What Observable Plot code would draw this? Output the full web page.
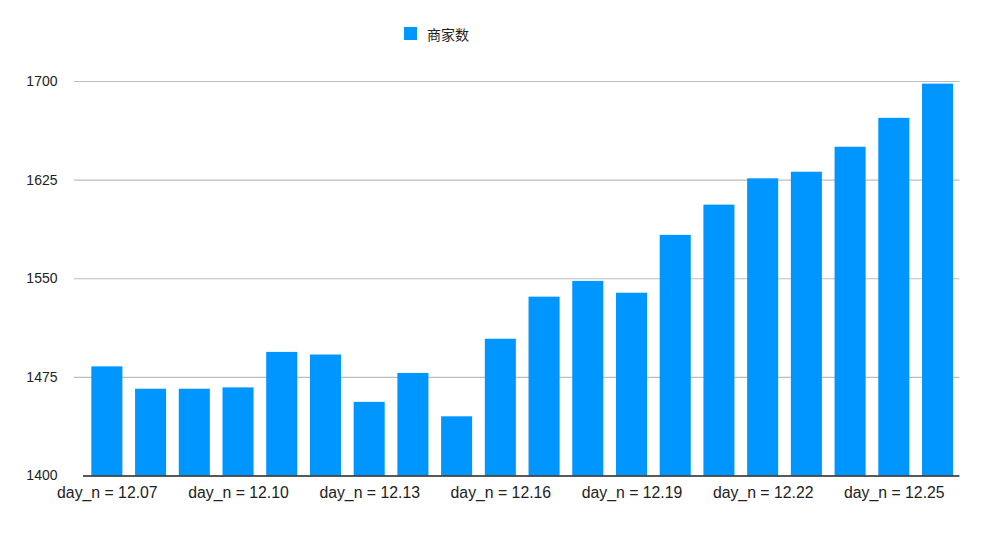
<!DOCTYPE html>
<html>
<head>
<meta charset="utf-8">
<script src="https://cdn.jsdelivr.net/npm/d3@7"></script>
<script src="https://cdn.jsdelivr.net/npm/@observablehq/plot@0.6"></script>
<style>
  html, body { margin: 0; padding: 0; background: #fff; }
  body { width: 1000px; height: 552px; overflow: hidden; font-family: "Liberation Sans", Arial, sans-serif; }
  #legend { position: relative; height: 60px; }
  #legend .sw { position: absolute; left: 404px; top: 27px; width: 13px; height: 13px; background: #0096ff; }
  #legend .lb { position: absolute; left: 427px; top: 24px; font-size: 14px; line-height: 20px; color: #222; font-family: "Noto Sans CJK SC", sans-serif; }
</style>
</head>
<body>
<div id="legend"><div class="sw"></div><div class="lb">商家数</div></div>
<div id="chart"></div>
<script>
const days = ["12.07","12.08","12.09","12.10","12.11","12.12","12.13","12.14","12.15","12.16",
              "12.17","12.18","12.19","12.20","12.21","12.22","12.23","12.24","12.25","12.26"];
const merchants = [1483,1466,1466,1467,1494,1492,1456,1478,1445,1504,
                   1536,1548,1539,1583,1606,1626,1631,1650,1672,1698];
const xTickDays = ["12.07","12.10","12.13","12.16","12.19","12.22","12.25"];
const yTicks = [1400,1475,1550,1625,1700];

const data = days.map((d, i) => ({day: d, value: merchants[i]}));

const chart = Plot.plot({
  width: 1000,
  height: 492,
  marginTop: 21,
  marginBottom: 76.5,
  marginLeft: 85,
  marginRight: 40.6,
  style: {fontFamily: "'Liberation Sans', Arial, sans-serif", color: "#222", background: "#fff"},
  x: {type: "band", domain: days, paddingInner: 0.29, paddingOuter: 0.145, round: false, label: null},
  y: {domain: [1400, 1700], label: null},
  marks: [
    Plot.ruleY(yTicks.filter(t => t > 1400), {stroke: "#bdbdbd", strokeWidth: 1.2, insetLeft: -11}),
    Plot.barY(data, {x: "day", y1: 1400, y2: "value", fill: "#0096ff"}),
    Plot.ruleY([1400], {stroke: "#222", strokeWidth: 1.5, insetLeft: -2}),
    Plot.axisY({ticks: yTicks, tickSize: 0, tickPadding: 28, fontSize: 14, tickFormat: d => String(d)}),
    Plot.axisX({ticks: xTickDays, tickSize: 0, tickPadding: 11, fontSize: 15.8, tickFormat: d => "day_n = " + d})
  ]
});
document.getElementById("chart").appendChild(chart);
</script>
</body>
</html>
